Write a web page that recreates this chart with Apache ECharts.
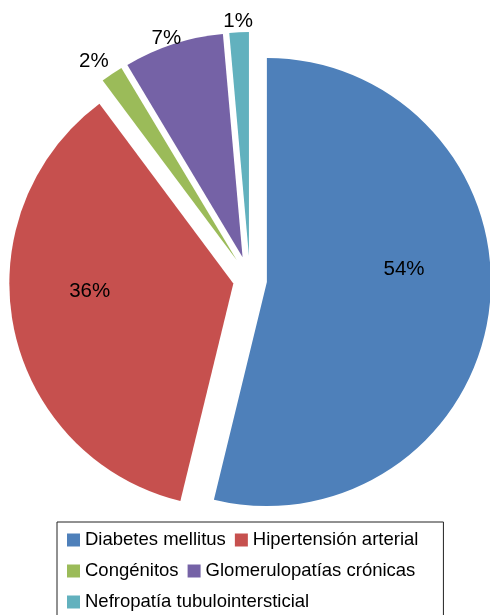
<!DOCTYPE html>
<html><head><meta charset="utf-8">
<script src="https://cdn.jsdelivr.net/npm/echarts@6/dist/echarts.min.js"></script>
<style>html,body{margin:0;padding:0;background:#fff}#c{width:490px;height:615px}</style>
</head><body><div id="c"></div>
<script>
const categories = ['Diabetes mellitus', 'Hipertensión arterial', 'Congénitos', 'Glomerulopatías crónicas', 'Nefropatía tubulointersticial'];
const values = [53.8, 36.0, 1.6, 7.2, 1.4];
const colors = ['#4E80BA', '#C6504E', '#9BBB59', '#7562A6', '#62B1BE'];
const bigIdx = [0, 1];
const smallIdx = [2, 3, 4];
// label nudges (px) relative to the library's default label anchor
const labelDx = [23, -31, -18, -7, -1];
const labelDy = [-26, -15, -13, -6, -11];

const FONT = '"Liberation Sans", Arial, Helvetica, sans-serif';

function buildData(shown) {
  return categories.map((name, i) => {
    const vis = shown.indexOf(i) >= 0;
    return {
      name: name,
      value: values[i],
      selected: true,
      itemStyle: { color: vis ? colors[i] : 'rgba(0,0,0,0)' },
      label: { show: vis }
    };
  });
}

function nudge(params) {
  const i = params.dataIndex;
  const out = { dx: labelDx[i], dy: labelDy[i] };
  if (smallIdx.indexOf(i) >= 0) out.align = 'center';
  return out;
}

const common = {
  type: 'pie',
  center: [250, 280],
  radius: 224,
  startAngle: 90,
  clockwise: true,
  selectedMode: 'multiple',
  avoidLabelOverlap: false,
  animation: false,
  emphasis: { disabled: true },
  labelLine: { show: false, length: 0, length2: 0 },
  labelLayout: nudge
};

const chart = echarts.init(document.getElementById('c'), null, { renderer: 'canvas' });
chart.setOption({
  animation: false,
  backgroundColor: '#ffffff',
  legend: {
    left: 57,
    top: 522,
    width: 380,
    orient: 'horizontal',
    padding: [7, 25, 9, 10],
    itemGap: 9,
    itemWidth: 13,
    itemHeight: 13,
    icon: 'rect',
    borderColor: '#222',
    borderWidth: 1,
    borderRadius: 0,
    selectedMode: false,
    textStyle: { fontSize: 18.5, color: '#000', fontFamily: FONT, lineHeight: 22 },
    data: categories.map((n, i) => ({ name: n, itemStyle: { color: colors[i], opacity: 1 } }))
  },
  series: [
    Object.assign({}, common, {
      name: 'big',
      selectedOffset: 17,
      label: {
        show: true, position: 'inside', color: '#000', fontSize: 20.5, fontFamily: FONT,
        formatter: p => Math.round(p.percent) + '%'
      },
      data: buildData(bigIdx)
    }),
    Object.assign({}, common, {
      name: 'small',
      selectedOffset: 24,
      label: {
        show: true, position: 'outside', color: '#000', fontSize: 20.5, fontFamily: FONT,
        distanceToLabelLine: 0,
        formatter: p => Math.round(p.percent) + '%'
      },
      data: buildData(smallIdx)
    })
  ]
});
</script>
</body></html>
